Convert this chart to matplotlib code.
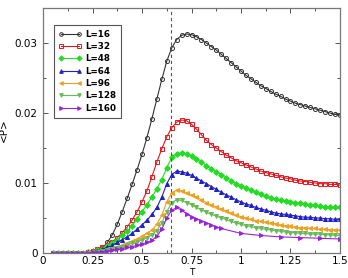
import matplotlib
matplotlib.use("Agg")
import matplotlib.pyplot as plt
from matplotlib.ticker import MultipleLocator

# temperatures (common grid) and mean values <P>
temps = [0.05, 0.075, 0.1, 0.125, 0.15, 0.175, 0.2, 0.225, 0.25, 0.275,
         0.3, 0.325, 0.35, 0.375, 0.4, 0.425, 0.45, 0.475, 0.5, 0.525,
         0.55, 0.575, 0.6, 0.625, 0.65, 0.675, 0.7, 0.725, 0.75, 0.775,
         0.8, 0.825, 0.85, 0.875, 0.9, 0.925, 0.95, 0.975, 1.0, 1.025,
         1.05, 1.075, 1.1, 1.125, 1.15, 1.175, 1.2, 1.225, 1.25, 1.275,
         1.3, 1.325, 1.35, 1.375, 1.4, 1.425, 1.45, 1.475, 1.5]

p16 = [0, 0, 0, 0, 0, 0, 0, 0.0001, 0.0002, 0.0004,
       0.0007, 0.0015, 0.0026, 0.0041, 0.0059, 0.0078, 0.0098, 0.0119, 0.0141, 0.0165,
       0.0192, 0.0220, 0.0248, 0.0274, 0.0293, 0.0305, 0.0311, 0.0313, 0.0312, 0.0309,
       0.0305, 0.0300, 0.0295, 0.0290, 0.0284, 0.0278, 0.0272, 0.0266, 0.0260, 0.0254,
       0.0249, 0.0244, 0.0239, 0.0235, 0.0231, 0.0227, 0.0224, 0.0220, 0.0217, 0.0214,
       0.0212, 0.0210, 0.0208, 0.0206, 0.0204, 0.0202, 0.0200, 0.0198, 0.0197]

p32 = [0, 0, 0, 0, 0, 0, 0, 0.0001, 0.0003, 0.0005,
       0.0008, 0.0011, 0.0016, 0.0022, 0.0029, 0.0037, 0.0047, 0.0059, 0.0073, 0.0089,
       0.0109, 0.0130, 0.0149, 0.0166, 0.0179, 0.0187, 0.0190, 0.0189, 0.0184, 0.0177,
       0.0169, 0.0161, 0.0155, 0.0150, 0.0145, 0.0140, 0.0136, 0.0132, 0.0129, 0.0126,
       0.0123, 0.0120, 0.0117, 0.0115, 0.0113, 0.0111, 0.0109, 0.0107, 0.0106, 0.0104,
       0.0103, 0.0102, 0.0101, 0.0100, 0.0099, 0.0099, 0.0098, 0.0098, 0.0097]

p48 = [0, 0, 0, 0, 0, 0, 0, 0.0001, 0.0002, 0.0004,
       0.0006, 0.0010, 0.0014, 0.0019, 0.0025, 0.0031, 0.0039, 0.0049, 0.0059, 0.0069,
       0.0080, 0.0092, 0.0105, 0.0122, 0.0137, 0.0142, 0.0143, 0.0141, 0.0138, 0.0134,
       0.0130, 0.0125, 0.0120, 0.0116, 0.0112, 0.0107, 0.0103, 0.0099, 0.0096, 0.0093,
       0.0090, 0.0087, 0.0084, 0.0081, 0.0079, 0.0077, 0.0076, 0.0074, 0.0073, 0.0072,
       0.0071, 0.0070, 0.0069, 0.0068, 0.0067, 0.0066, 0.0066, 0.0065, 0.0065]

p64 = [0, 0, 0, 0, 0, 0, 0, 0.0001, 0.0002, 0.0003,
       0.0005, 0.0008, 0.0011, 0.0015, 0.0019, 0.0023, 0.0028, 0.0034, 0.0040, 0.0047,
       0.0055, 0.0065, 0.0080, 0.0099, 0.0112, 0.0117, 0.0116, 0.0114, 0.0111, 0.0107,
       0.0103, 0.0099, 0.0095, 0.0091, 0.0087, 0.0083, 0.0080, 0.0076, 0.0073, 0.0070,
       0.0068, 0.0065, 0.0063, 0.0061, 0.0059, 0.0057, 0.0056, 0.0055, 0.0054, 0.0053,
       0.0052, 0.0051, 0.0051, 0.0050, 0.0050, 0.0049, 0.0049, 0.0048, 0.0048]

p96 = [0, 0, 0, 0, 0, 0, 0, 0.0001, 0.0001, 0.0002,
       0.0003, 0.0005, 0.0007, 0.0009, 0.0011, 0.0014, 0.0017, 0.0020, 0.0024, 0.0028,
       0.0033, 0.0041, 0.0054, 0.0073, 0.0086, 0.0090, 0.0089, 0.0086, 0.0083, 0.0080,
       0.0076, 0.0072, 0.0069, 0.0066, 0.0063, 0.0060, 0.0057, 0.0054, 0.0052, 0.0050,
       0.0048, 0.0046, 0.0045, 0.0044, 0.0043, 0.0042, 0.0040, 0.0039, 0.0038, 0.0037,
       0.0036, 0.0036, 0.0035, 0.0035, 0.0034, 0.0034, 0.0033, 0.0033, 0.0033]

p128 = [0, 0, 0, 0, 0, 0, 0, 0, 0.0001, 0.0002,
        0.0003, 0.0004, 0.0005, 0.0007, 0.0009, 0.0011, 0.0014, 0.0016, 0.0019, 0.0022,
        0.0026, 0.0032, 0.0043, 0.0059, 0.0072, 0.0076, 0.0075, 0.0072, 0.0069, 0.0065,
        0.0062, 0.0058, 0.0055, 0.0053, 0.0050, 0.0048, 0.0045, 0.0043, 0.0041, 0.0039,
        0.0038, 0.0036, 0.0035, 0.0034, 0.0033, 0.0032, 0.0031, 0.0030, 0.0029, 0.0029,
        0.0028, 0.0028, 0.0027, 0.0027, 0.0027, 0.0026, 0.0026, 0.0025, 0.0025]

# L=160 was sampled more coarsely at high T
temps160 = [0.05, 0.075, 0.1, 0.125, 0.15, 0.175, 0.2, 0.225, 0.25, 0.275,
            0.3, 0.325, 0.35, 0.375, 0.4, 0.425, 0.45, 0.475, 0.5, 0.525,
            0.55, 0.575, 0.6, 0.625, 0.65, 0.675, 0.7, 0.725, 0.75, 0.775,
            0.8, 0.825, 0.85, 0.875, 0.9, 1.0, 1.1, 1.2, 1.3, 1.4, 1.5]
p160 = [0, 0, 0, 0, 0, 0, 0, 0, 0.0001, 0.0001,
        0.0002, 0.0003, 0.0004, 0.0005, 0.0006, 0.0008, 0.0009, 0.0011, 0.0013, 0.0015,
        0.0018, 0.0024, 0.0034, 0.0050, 0.0061, 0.0065, 0.0061, 0.0056, 0.0052, 0.0049,
        0.0046, 0.0043, 0.0040, 0.0037, 0.0035, 0.0028, 0.0025, 0.0023, 0.0022, 0.0021,
        0.0020]

t_c = 0.646

series = [
    ("L=16", temps, p16, "#333333", "o", "none"),
    ("L=32", temps, p32, "#e8141c", "s", "none"),
    ("L=48", temps, p48, "#22dd22", "D", None),
    ("L=64", temps, p64, "#2020c8", "^", None),
    ("L=96", temps, p96, "#f0a020", "<", None),
    ("L=128", temps, p128, "#66bb55", "v", None),
    ("L=160", temps160, p160, "#9a22dd", ">", None),
]

fig = plt.figure(figsize=(3.48, 2.78), dpi=100)
ax = fig.add_axes([0.1236, 0.09, 0.8534, 0.881])

for label, t, p, col, mk, face in series:
    kw = dict(color=col, marker=mk, markersize=2.9, linewidth=0.8,
              markeredgewidth=0.7, label=label)
    if face is not None:
        kw["markerfacecolor"] = face
    ax.plot(t, p, **kw)

ax.axvline(t_c, color="#555555", linestyle="--", linewidth=0.8, dashes=(3, 2.5))

ax.set_xlim(0, 1.5)
ax.set_ylim(0, 0.035)
ax.xaxis.set_minor_locator(MultipleLocator(0.125))
ax.yaxis.set_minor_locator(MultipleLocator(0.005))
ax.set_xticks([0, 0.25, 0.5, 0.75, 1, 1.25, 1.5])
ax.set_xticklabels(["0", "0.25", "0.5", "0.75", "1", "1.25", "1.5"])
ax.set_yticks([0, 0.01, 0.02, 0.03])
ax.set_yticklabels(["0", "0.01", "0.02", "0.03"])

ax.tick_params(which="both", direction="in", top=True, right=True,
               labelsize=7.5, color="#555555", width=0.7)
ax.tick_params(which="major", length=3.5, pad=4)
ax.tick_params(axis="x", which="major", pad=2.5)
ax.tick_params(which="minor", length=2)
for s in ax.spines.values():
    s.set_color("#777777")
    s.set_linewidth(0.9)

# x label placed by hand so it stays inside the small canvas
fig.text(0.5505, 0.002, "T", fontsize=6.5, ha="center", va="bottom")
ax.set_ylabel("<P>", fontsize=7.5, labelpad=4)

leg = ax.legend(loc="upper left", bbox_to_anchor=(0.037, 0.931), borderaxespad=0,
                fancybox=False, edgecolor="#555555", framealpha=1,
                handlelength=2.6, handletextpad=0.4, labelspacing=0.38,
                borderpad=0.55, numpoints=2, markerscale=0.9,
                prop={"size": 6.3, "weight": "bold"})
leg.get_frame().set_linewidth(0.8)

fig.savefig("out.png", dpi=100)
